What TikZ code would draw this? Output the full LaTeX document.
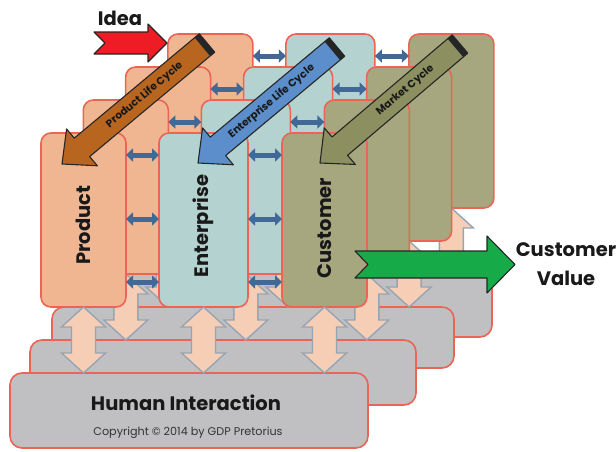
\documentclass[tikz,border=0pt]{standalone}
\usepackage{fontspec}
\setmainfont{Poppins}
\usetikzlibrary{calc,arrows.meta}

\definecolor{prodfill}{RGB}{240,182,146}
\definecolor{entfill}{RGB}{180,210,208}
\definecolor{custfill}{RGB}{166,167,126}
\definecolor{grayfill}{RGB}{192,191,193}
\definecolor{edgered}{RGB}{236,100,85}
\definecolor{linkblue}{RGB}{66,104,150}
\definecolor{peach}{RGB}{246,206,182}
\definecolor{peachedge}{RGB}{150,165,180}
\definecolor{cyclebrown}{RGB}{184,101,32}
\definecolor{cycleblue}{RGB}{92,142,203}
\definecolor{cycleolive}{RGB}{140,143,96}
\definecolor{ideared}{RGB}{238,28,36}
\definecolor{valuegreen}{RGB}{22,170,72}

% block arrow running from a tail point to a tip point, with a dark cap at the tail
\newcommand\cyclearrow[6]{%
  \coordinate (cyT) at #1;
  \coordinate (cyH) at #2;
  \coordinate (cyB) at ($(cyH)!26pt!(cyT)$);
  \coordinate (cyC) at ($(cyT)!6pt!(cyH)$);
  \draw[fill=#3, draw=black!85, line width=1.1pt, line join=round]
    ($(cyT)!12pt!90:(cyH)$) -- ($(cyB)!12pt!90:(cyH)$) -- ($(cyB)!24pt!90:(cyH)$)
    -- (cyH) -- ($(cyB)!24pt!-90:(cyH)$) -- ($(cyB)!12pt!-90:(cyH)$)
    -- ($(cyT)!12pt!-90:(cyH)$) -- cycle;
  \fill[black!85] ($(cyT)!12pt!90:(cyH)$) -- ($(cyT)!12pt!-90:(cyH)$)
    -- ($(cyC)!12pt!-90:(cyH)$) -- ($(cyC)!12pt!90:(cyH)$) -- cycle;
  \node[cyclelabel] (#6) at ($(cyT)!#5!(cyH)$) {#4};
}

\begin{document}
\begin{tikzpicture}[x=1pt,y=-1pt,
  colbox/.style={draw=edgered, line width=1.6pt, rounded corners=10pt,
    minimum height=174pt, inner sep=0pt, outer sep=0pt},
  graybox/.style={draw=edgered, fill=grayfill, line width=1.6pt, rounded corners=12pt,
    inner sep=0pt, outer sep=0pt},
  harrow/.style={draw=linkblue, line width=5pt,
    {Triangle[length=7pt,width=13pt]}-{Triangle[length=7pt,width=13pt]}},
  varrow/.style={draw=peachedge, fill=peach, line width=1.4pt, line join=miter},
  collabel/.style={rotate=90, font=\bfseries\fontsize{19.5}{20}\selectfont, text=black!90},
  cyclelabel/.style={rotate=40, font=\bfseries\fontsize{10.5}{11}\selectfont, text=black!90, inner sep=0pt},
  biglabel/.style={font=\bfseries\fontsize{19.5}{29}\selectfont, text=black!90, align=center}]
\useasboundingbox (0,0) rectangle (616,451);

% four stacked layers, drawn from the back to the front
\foreach \k/\gx/\gy/\gw/\gh in {3/283/305.5/418/63, 2/253/337.5/402/61,
                                1/223/372.5/386/65, 0/189/410.5/358/75}{
  \pgfmathsetmacro\dx{42.3*\k}
  \pgfmathsetmacro\dy{-33*\k}
  \node[graybox, minimum width=\gw, minimum height=\gh] (gray\k) at (\gx,\gy) {};
  \node[colbox, fill=prodfill, minimum width=85pt] (prod\k) at (83.5+\dx,220+\dy) {};
  \node[colbox, fill=entfill, minimum width=89pt] (ent\k) at (203.5+\dx,220+\dy) {};
  \node[colbox, fill=custfill, minimum width=85pt] (cust\k) at (324.5+\dx,220+\dy) {};
  % links from each column down to the base layer
  \foreach \c in {prod,ent,cust}{
    \path[varrow] let \p1=(\c\k.south), \p2=(\c\k.south |- gray\k.north) in
      (\x1,\y1) -- (\x1+22pt,\y1-20pt) -- (\x1+12pt,\y1-20pt) -- (\x1+12pt,\y2+20pt)
      -- (\x1+22pt,\y2+20pt) -- (\x1,\y2) -- (\x1-22pt,\y2+20pt) -- (\x1-12pt,\y2+20pt)
      -- (\x1-12pt,\y1-20pt) -- (\x1-22pt,\y1-20pt) -- cycle;
  }
  % links between neighbouring columns
  \foreach \a/\b in {prod/ent, ent/cust}{
    \foreach \o in {22,86,149}{
      \draw[harrow] ($(\a\k.north east)+(0,\o)$) -- ($(\b\k.north west)+(0,\o)$);
    }
  }
}

% labels of the front layer
\node[collabel] (lprod) at ($(prod0.center)+(0,5)$) {Product};
\node[collabel] (lent) at ($(ent0.center)+(0,6)$) {Enterprise};
\node[collabel] (lcust) at ($(cust0.center)+(0,8)$) {Customer};
\node[biglabel] (lhuman) at (186,403) {Human Interaction};
\node[font=\fontsize{11.2}{12}\selectfont, text=black!80] (lcopy) at (188,432.5)
  {Copyright \textcopyright{} 2014 by GDP Pretorius};

% the three life cycles
\cyclearrow{(207,43)}{(62,164)}{cyclebrown}{Product Life Cycle}{0.43}{lplc}
\cyclearrow{(337,47)}{(198,163)}{cycleblue}{Enterprise Life Cycle}{0.47}{lelc}
\cyclearrow{(460,44)}{(320,163)}{cycleolive}{Market Cycle}{0.39}{lmc}

% input idea
\draw[fill=ideared, draw=black!85, line width=1.1pt, line join=round]
  (94,32) -- (105,43) -- (94,54) -- (148,54) -- (148,62) -- (167,43)
  -- (148,24) -- (148,32) -- cycle;
\node[biglabel] (lidea) at (120,18) {Idea};

% output value
\draw[fill=valuegreen, draw=black!85, line width=1.1pt, line join=round]
  (355,251) -- (368,264.5) -- (355,278) -- (487,278) -- (487,293) -- (515,264.5)
  -- (487,236) -- (487,251) -- cycle;
\node[biglabel] (lvalue) at (566,264) {Customer\\Value};
\end{tikzpicture}
\end{document}
